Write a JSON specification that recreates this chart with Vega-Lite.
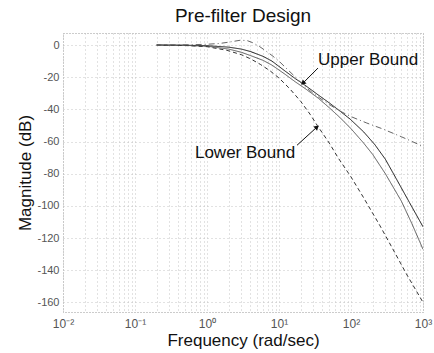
{
  "$schema": "https://vega.github.io/schema/vega-lite/v6.json",
  "width": 360,
  "height": 279,
  "autosize": {"type": "none"},
  "padding": {"left": 63, "top": 33, "right": 11, "bottom": 41},
  "background": "white",
  "config": {
    "font": "Liberation Sans",
    "view": {"stroke": "#999", "strokeDash": [1, 2], "strokeWidth": 1}
  },
  "title": {"text": "Pre-filter Design", "fontSize": 19, "fontWeight": "normal", "color": "#111", "offset": 7, "anchor": "middle", "font": "Liberation Sans"},
  "datasets": {
    "curves": [
      {"s": "max", "w": 0.2, "db": 0}, {"s": "max", "w": 0.5, "db": -0.1}, {"s": "max", "w": 1, "db": -0.4}, {"s": "max", "w": 2, "db": -1.3}, {"s": "max", "w": 3, "db": -2.5}, {"s": "max", "w": 4, "db": -4}, {"s": "max", "w": 6, "db": -7}, {"s": "max", "w": 8, "db": -10}, {"s": "max", "w": 12, "db": -16}, {"s": "max", "w": 17, "db": -21}, {"s": "max", "w": 23, "db": -25}, {"s": "max", "w": 35, "db": -31}, {"s": "max", "w": 50, "db": -36}, {"s": "max", "w": 70, "db": -41}, {"s": "max", "w": 97, "db": -46}, {"s": "max", "w": 150, "db": -54}, {"s": "max", "w": 215, "db": -62}, {"s": "max", "w": 300, "db": -71}, {"s": "max", "w": 436, "db": -84}, {"s": "max", "w": 650, "db": -98}, {"s": "max", "w": 1000, "db": -113},
      {"s": "min", "w": 0.2, "db": 0}, {"s": "min", "w": 0.5, "db": -0.2}, {"s": "min", "w": 1, "db": -0.7}, {"s": "min", "w": 2, "db": -2.5}, {"s": "min", "w": 3, "db": -4.5}, {"s": "min", "w": 4, "db": -6.5}, {"s": "min", "w": 6, "db": -9.5}, {"s": "min", "w": 8, "db": -12.5}, {"s": "min", "w": 12, "db": -18}, {"s": "min", "w": 17, "db": -23}, {"s": "min", "w": 23, "db": -27}, {"s": "min", "w": 35, "db": -33}, {"s": "min", "w": 50, "db": -39}, {"s": "min", "w": 70, "db": -45}, {"s": "min", "w": 100, "db": -52}, {"s": "min", "w": 150, "db": -61}, {"s": "min", "w": 200, "db": -68}, {"s": "min", "w": 300, "db": -80}, {"s": "min", "w": 500, "db": -97}, {"s": "min", "w": 700, "db": -111}, {"s": "min", "w": 1000, "db": -127},
      {"s": "lower", "w": 0.2, "db": 0}, {"s": "lower", "w": 0.5, "db": -0.3}, {"s": "lower", "w": 1, "db": -1}, {"s": "lower", "w": 1.9, "db": -3.3}, {"s": "lower", "w": 3, "db": -6}, {"s": "lower", "w": 4, "db": -8.5}, {"s": "lower", "w": 5.5, "db": -12}, {"s": "lower", "w": 7.5, "db": -16}, {"s": "lower", "w": 10, "db": -20.5}, {"s": "lower", "w": 14, "db": -27}, {"s": "lower", "w": 20, "db": -35}, {"s": "lower", "w": 27, "db": -43}, {"s": "lower", "w": 34, "db": -50}, {"s": "lower", "w": 50, "db": -61}, {"s": "lower", "w": 66, "db": -70}, {"s": "lower", "w": 100, "db": -82}, {"s": "lower", "w": 150, "db": -95}, {"s": "lower", "w": 250, "db": -112}, {"s": "lower", "w": 372, "db": -126}, {"s": "lower", "w": 600, "db": -143}, {"s": "lower", "w": 1000, "db": -160},
      {"s": "upper", "w": 0.2, "db": 0}, {"s": "upper", "w": 0.6, "db": 0.2}, {"s": "upper", "w": 1, "db": 0.5}, {"s": "upper", "w": 1.5, "db": 1}, {"s": "upper", "w": 2, "db": 1.8}, {"s": "upper", "w": 2.9, "db": 3}, {"s": "upper", "w": 3.6, "db": 2.8}, {"s": "upper", "w": 4.3, "db": 1.5}, {"s": "upper", "w": 5.4, "db": -1}, {"s": "upper", "w": 6.5, "db": -3.5}, {"s": "upper", "w": 8, "db": -6.5}, {"s": "upper", "w": 10, "db": -10}, {"s": "upper", "w": 13, "db": -15}, {"s": "upper", "w": 17, "db": -20}, {"s": "upper", "w": 22, "db": -25}, {"s": "upper", "w": 28, "db": -29}, {"s": "upper", "w": 37, "db": -33}, {"s": "upper", "w": 50, "db": -37}, {"s": "upper", "w": 70, "db": -41}, {"s": "upper", "w": 100, "db": -44.5}, {"s": "upper", "w": 166, "db": -48.5}, {"s": "upper", "w": 270, "db": -52}, {"s": "upper", "w": 500, "db": -57}, {"s": "upper", "w": 1000, "db": -63}
    ],
    "labels": [
      {"label": "Upper Bound", "w": 34.8, "db": -9.3},
      {"label": "Lower Bound", "w": 0.68, "db": -67}
    ],
    "arrowUpper": [{"w": 34.8, "db": -14.3, "w2": 21.5, "db2": -23.7}],
    "tipUpper": [{"w": 21.5, "db": -23.7}],
    "arrowLower": [{"w": 17.8, "db": -62.3, "w2": 33.7, "db2": -51}],
    "tipLower": [{"w": 33.7, "db": -51}]
  },
  "encoding": {
    "x": {
      "field": "w", "type": "quantitative",
      "scale": {"type": "log", "domain": [0.01, 1000], "nice": false},
      "axis": {
        "title": "Frequency (rad/sec)",
        "titleFontSize": 17, "titleFontWeight": "normal", "titleColor": "#111", "titlePadding": 3,
        "values": [0.01,0.02,0.03,0.04,0.05,0.06,0.07,0.08,0.09,0.1,0.2,0.3,0.4,0.5,0.6,0.7,0.8,0.9,1,2,3,4,5,6,7,8,9,10,20,30,40,50,60,70,80,90,100,200,300,400,500,600,700,800,900,1000],
        "labelExpr": "datum.value == 0.01 ? '10⁻²' : datum.value == 0.1 ? '10⁻¹' : datum.value == 1 ? '10⁰' : datum.value == 10 ? '10¹' : datum.value == 100 ? '10²' : datum.value == 1000 ? '10³' : ''",
        "labelOverlap": false, "labelFontSize": 12, "labelColor": "#555", "labelPadding": 6, "labelFlush": false,
        "domain": false, "ticks": false,
        "grid": true, "gridColor": "#c4c4c4", "gridDash": [1, 3], "gridWidth": 1
      }
    },
    "y": {
      "field": "db", "type": "quantitative",
      "scale": {"domain": [-166, 7.5], "nice": false, "zero": false},
      "axis": {
        "title": "Magnitude (dB)",
        "titleFontSize": 17, "titleFontWeight": "normal", "titleColor": "#111", "titlePadding": 2,
        "values": [-160, -140, -120, -100, -80, -60, -40, -20, 0],
        "labelExpr": "datum.value < 0 ? '-' + abs(datum.value) : '' + datum.value",
        "labelFontSize": 11, "labelColor": "#555", "labelPadding": 4,
        "domain": false, "ticks": false,
        "grid": true, "gridColor": "#c4c4c4", "gridDash": [1, 3], "gridWidth": 1
      }
    }
  },
  "layer": [
    {
      "data": {"name": "curves"},
      "mark": {"type": "line", "strokeWidth": 1, "clip": true},
      "encoding": {
        "color": {"field": "s", "type": "nominal", "scale": {"domain": ["max", "min", "upper", "lower"], "range": ["#111111", "#555555", "#666666", "#333333"]}, "legend": null},
        "strokeDash": {"field": "s", "type": "nominal", "scale": {"domain": ["max", "min", "upper", "lower"], "range": [[1, 0], [1, 0], [6, 3, 1, 3], [4, 3]]}, "legend": null}
      }
    },
    {
      "data": {"name": "labels"},
      "mark": {"type": "text", "align": "left", "baseline": "middle", "fontSize": 17, "color": "#111", "font": "Liberation Sans"},
      "encoding": {"text": {"field": "label"}}
    },
    {
      "data": {"name": "arrowUpper"},
      "mark": {"type": "rule", "color": "#111", "strokeWidth": 1},
      "encoding": {"x2": {"field": "w2"}, "y2": {"field": "db2"}}
    },
    {
      "data": {"name": "tipUpper"},
      "mark": {"type": "point", "shape": "triangle-up", "filled": true, "color": "#111", "size": 30, "angle": 225, "opacity": 1}
    },
    {
      "data": {"name": "arrowLower"},
      "mark": {"type": "rule", "color": "#111", "strokeWidth": 1},
      "encoding": {"x2": {"field": "w2"}, "y2": {"field": "db2"}}
    },
    {
      "data": {"name": "tipLower"},
      "mark": {"type": "point", "shape": "triangle-up", "filled": true, "color": "#111", "size": 30, "angle": 48, "opacity": 1}
    }
  ]
}
